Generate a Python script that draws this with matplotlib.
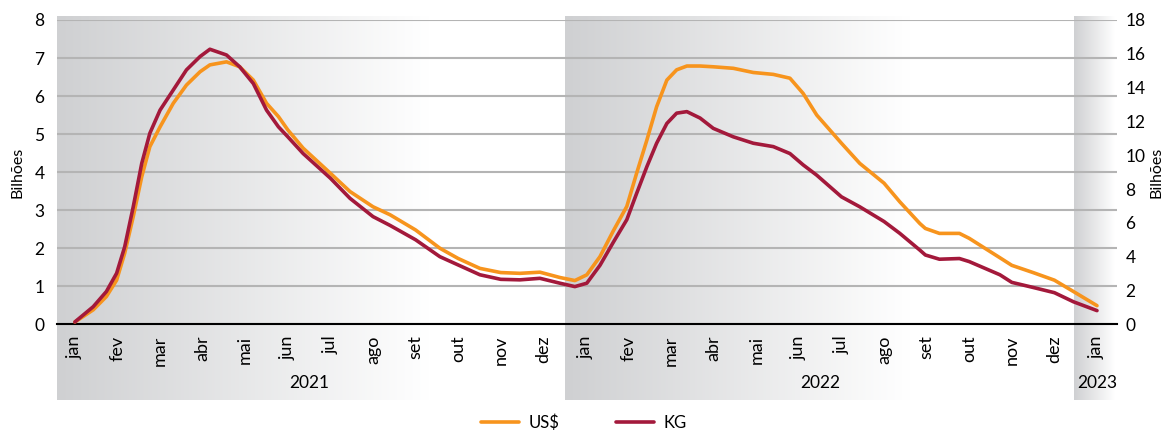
import numpy as np
import matplotlib
matplotlib.use('Agg')
import matplotlib.pyplot as plt
from matplotlib.colors import LinearSegmentedColormap

plt.rcParams['font.family'] = ['Lato', 'DejaVu Sans']

# month labels (jan/2021 .. jan/2023)
months = ['jan', 'fev', 'mar', 'abr', 'mai', 'jun', 'jul', 'ago', 'set', 'out', 'nov', 'dez',
          'jan', 'fev', 'mar', 'abr', 'mai', 'jun', 'jul', 'ago', 'set', 'out', 'nov', 'dez', 'jan']
years = ['2021', '2022', '2023']

# US$ (bilhões), read at month positions (0 = jan/2021)
usd_x = [0, 0.43, 0.74, 0.98, 1.17, 1.37, 1.57, 1.76, 2.0, 2.31, 2.62, 2.94, 3.17, 3.56, 3.87,
         4.19, 4.5, 4.78, 5.0, 5.36, 6.0, 6.46, 7.0, 7.4, 8.0, 8.57, 9.0, 9.51, 10.0, 10.45,
         10.92, 11.39, 11.74, 12.02, 12.33, 12.64, 12.96, 13.19, 13.43, 13.66, 13.9, 14.13,
         14.37, 14.68, 14.99, 15.46, 15.93, 16.4, 16.79, 17.1, 17.42, 18.0, 18.43, 19.0, 19.37,
         19.84, 19.97, 20.3, 20.77, 21.0, 21.72, 22.0, 22.5, 23.0, 23.45, 24.0]
usd = [0.06, 0.38, 0.73, 1.16, 1.87, 2.83, 3.88, 4.67, 5.19, 5.81, 6.29, 6.64, 6.82, 6.9, 6.77,
       6.42, 5.81, 5.46, 5.11, 4.63, 3.97, 3.49, 3.09, 2.88, 2.48, 2.0, 1.73, 1.47, 1.36, 1.34,
       1.37, 1.23, 1.15, 1.3, 1.78, 2.45, 3.1, 3.97, 4.84, 5.72, 6.42, 6.69,
       6.79, 6.79, 6.77, 6.73, 6.62, 6.57, 6.47, 6.07, 5.5, 4.76, 4.23, 3.71, 3.22,
       2.65, 2.52, 2.39, 2.39, 2.26, 1.75, 1.55, 1.36, 1.16, 0.86, 0.49]

# KG (bilhões), right axis
kg_x = usd_x
kg = [0.14, 1.04, 1.94, 3.02, 4.59, 6.95, 9.52, 11.3, 12.67, 13.86, 15.05, 15.84, 16.27, 15.93,
      15.23, 14.24, 12.67, 11.68, 11.09, 10.1, 8.64, 7.45, 6.37, 5.85, 5.0, 4.0, 3.51, 2.93,
      2.66, 2.63, 2.72, 2.43, 2.23, 2.43, 3.49, 4.84, 6.19, 7.74, 9.32, 10.71, 11.88, 12.49,
      12.58, 12.2, 11.59, 11.09, 10.71, 10.51, 10.1, 9.43, 8.82, 7.54, 6.95, 6.08, 5.38,
      4.39, 4.1, 3.85, 3.89, 3.71, 2.93, 2.48, 2.18, 1.87, 1.33, 0.81]

orange = '#f7941d'
red = '#a3193b'

fig = plt.figure(figsize=(11.63, 4.32), dpi=100)
ax = fig.add_axes([57 / 1163, 107.7 / 432, 1060 / 1163, 304.3 / 432])
ax.patch.set_visible(False)

xmin, xmax = -0.42, 24.47

# shaded year bands, fading to white
cmap = LinearSegmentedColormap.from_list('band', ['#cfd0d2', '#ffffff'])
grad = np.linspace(0, 1, 256).reshape(1, -1)
for x0, x1 in [(xmin, 8.3), (11.5, 19.6), (23.45, 24.4)]:
    ax.imshow(grad, cmap=cmap, extent=(x0, x1, -1.99, 8.08), aspect='auto',
              clip_on=False, zorder=0, interpolation='bicubic')
ax.set_xlim(xmin, xmax)
ax.set_ylim(0, 8)

ax.set_yticks(range(0, 9))
ax.grid(axis='y', color='#b4b4b4', linewidth=1.5)
for s in ['top', 'right', 'left']:
    ax.spines[s].set_visible(False)
ax.spines['bottom'].set_color('black')
ax.spines['bottom'].set_linewidth(1.5)
ax.spines['bottom'].set_zorder(3)

ax.set_xticks(range(len(months)))
ax.set_xticklabels(months, rotation=90, fontsize=13)
ax.tick_params(axis='x', length=0, pad=8)
ax.tick_params(axis='y', length=0, pad=9, labelsize=12.5)
ax.set_ylabel('Bilhões', fontsize=11.5, labelpad=7)

l1, = ax.plot(usd_x, usd, color=orange, lw=2.6, solid_joinstyle='round',
              solid_capstyle='round', zorder=4, label='US$')

ax2 = ax.twinx()
ax2.set_ylim(0, 18)
ax2.set_yticks(range(0, 19, 2))
for s in ['top', 'right', 'left', 'bottom']:
    ax2.spines[s].set_visible(False)
ax2.tick_params(axis='y', length=0, pad=6, labelsize=12.5)
ax2.set_ylabel('Bilhões', fontsize=11.5, labelpad=3, rotation=90)
l2, = ax2.plot(kg_x, kg, color=red, lw=2.6, solid_joinstyle='round',
               solid_capstyle='round', zorder=4, label='KG')

# year labels under the months
trans = ax.get_xaxis_transform()
for xc, yr in zip([5.5, 17.5, 24], years):
    ax.text(xc, -0.193, yr, transform=trans, ha='center', va='center', fontsize=12.5)

fig.legend(handles=[l1, l2], loc='center', bbox_to_anchor=(0.502, 0.022), ncol=2,
           frameon=False, fontsize=12, handlelength=2.3, columnspacing=3.4,
           handletextpad=0.55, borderpad=0.2)

fig.savefig('out.png', dpi=100)
